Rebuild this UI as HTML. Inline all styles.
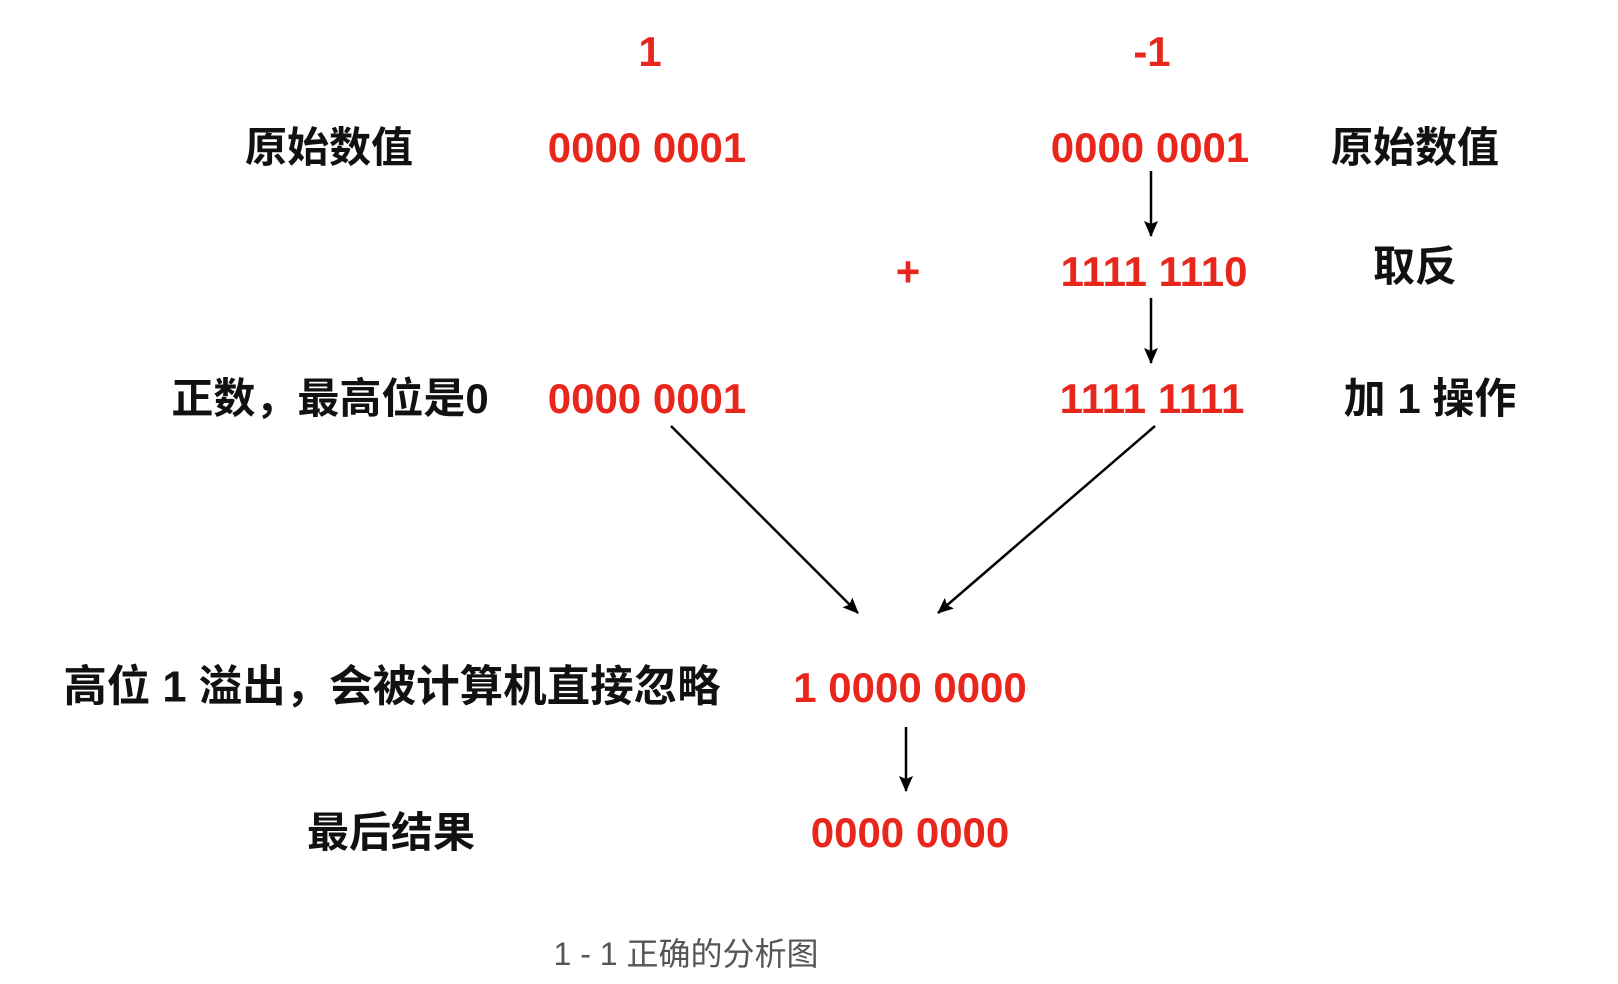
<!DOCTYPE html>
<html><head><meta charset="utf-8"><style>
body{margin:0;width:1618px;height:984px;background:#fff;position:relative;overflow:hidden;font-family:"Liberation Sans","Noto Sans CJK SC",sans-serif;}
.t{position:absolute;transform:translate(-50%,-50%);white-space:nowrap;font-weight:bold;font-size:42px;line-height:1;}
.r{color:#e8261c;}
.k{color:#111;}
</style></head><body>
<div class="t r" style="left:650px;top:52px">1</div>
<div class="t r" style="left:1152px;top:52px">-1</div>
<div class="t k" style="left:329px;top:148px">原始数值</div>
<div class="t r" style="left:647px;top:148px">0000 0001</div>
<div class="t r" style="left:1150px;top:148px">0000 0001</div>
<div class="t k" style="left:1415px;top:148px">原始数值</div>
<div class="t r" style="left:908px;top:272px">+</div>
<div class="t r" style="left:1154px;top:272px">1111 1110</div>
<div class="t k" style="left:1415px;top:267px">取反</div>
<div class="t k" style="left:330px;top:399px">正数，最高位是0</div>
<div class="t r" style="left:647px;top:399px">0000 0001</div>
<div class="t r" style="left:1152px;top:399px">1111 1111</div>
<div class="t k" style="left:1430px;top:399px">加 1 操作</div>
<div class="t k" style="left:392px;top:688px;font-size:43.5px">高位 1 溢出，会被计算机直接忽略</div>
<div class="t r" style="left:910px;top:688px">1 0000 0000</div>
<div class="t k" style="left:391px;top:833px">最后结果</div>
<div class="t r" style="left:910px;top:833px">0000 0000</div>
<div class="t" style="left:686px;top:954px;font-weight:normal;font-size:32px;color:#555">1 - 1 正确的分析图</div>
<svg width="1618" height="984" style="position:absolute;left:0;top:0">
<defs>
<marker id="b" markerWidth="16" markerHeight="14" refX="15" refY="7" orient="auto" markerUnits="userSpaceOnUse"><path d="M0,0 L16,7 L0,14 L3,7 z" fill="#000"/></marker></defs>
<g stroke="#000" stroke-width="2.5" fill="none">
<line x1="1151" y1="171" x2="1151" y2="236" marker-end="url(#b)"/>
<line x1="1151" y1="298" x2="1151" y2="363" marker-end="url(#b)"/>
<line x1="671" y1="426" x2="858" y2="613" marker-end="url(#b)"/>
<line x1="1155" y1="426" x2="938" y2="613" marker-end="url(#b)"/>
<line x1="906" y1="727" x2="906" y2="791" marker-end="url(#b)"/>
</g></svg>
</body></html>
